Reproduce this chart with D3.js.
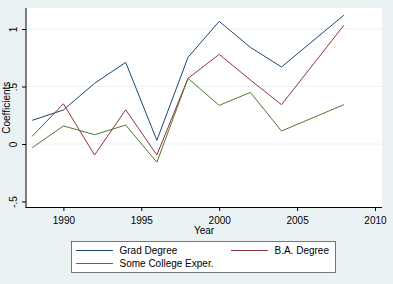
<!DOCTYPE html>
<html><head><meta charset="utf-8">
<script src="https://cdn.jsdelivr.net/npm/d3@7"></script>
<style>body{margin:0;background:#eaf2f3;}svg{display:block;font-family:"Liberation Sans",Arial,sans-serif;}</style>
</head><body><svg id="c" width="393" height="284"></svg>
<script>
const years = [1988,1990,1992,1994,1996,1998,2000,2002,2004,2008];
const gradDegree = [0.206,0.296,0.528,0.71,0.032,0.754,1.067,0.841,0.67,1.12];
const baDegree = [0.067,0.35,-0.096,0.298,-0.096,0.571,0.78,0.557,0.342,1.032];
const someCollege = [-0.032,0.157,0.081,0.165,-0.159,0.571,0.336,0.449,0.113,0.342];
const seriesNames = ["Grad Degree","B.A. Degree","Some College Exper."];
const colors = ["#1a476f","#90353b","#55752f"];
const xTicks = [1990,1995,2000,2005,2010];
const yTicks = [-0.5,0,0.5,1];
const yTickLabels = ["-.5","0",".5","1"];

const svg = d3.select("#c");
const L=26, R=382, T=8, B=207.5;
const x = d3.scaleLinear().domain([1987.6,2010.45]).range([L,R]);
const y = d3.scaleLinear().domain([-0.548,1.183]).range([207,T]);

svg.append("rect").attr("x",L).attr("y",T).attr("width",R-L).attr("height",B-T).attr("fill","#fff");
// grid
svg.append("g").selectAll("line").data(yTicks.filter(d=>d>-0.5)).join("line")
  .attr("x1",L).attr("x2",R).attr("y1",d=>y(d)).attr("y2",d=>y(d))
  .attr("stroke","#eaf2f3").attr("stroke-width",1);

const ya = svg.append("g").attr("transform",`translate(${L},0)`)
  .call(d3.axisLeft(y).tickValues(yTicks).tickSize(4).tickFormat((d,i)=>yTickLabels[i]));
ya.select(".domain").attr("stroke","#000").attr("d",`M0,${T}V${B}`);
ya.selectAll(".tick line").attr("stroke","#000");
ya.selectAll(".tick text").attr("font-size","10px").attr("fill","#000")
  .attr("x",null).attr("dy",null)
  .attr("text-anchor","middle")
  .attr("transform","translate(-9.5,0) rotate(-90)");

const xa = svg.append("g").attr("transform",`translate(0,${B})`)
  .call(d3.axisBottom(x).tickValues(xTicks).tickSize(3.5).tickFormat(d3.format("d")));
xa.select(".domain").attr("stroke","#000").attr("d",`M${L-0.5},0H${R}`);
xa.selectAll(".tick line").attr("stroke","#000");
xa.selectAll(".tick text").attr("font-size","10px").attr("fill","#000").attr("y",9);

svg.append("text").attr("x",(L+R)/2).attr("y",233.5).attr("text-anchor","middle")
  .attr("font-size","10px").text("Year");
svg.append("text").attr("transform",`translate(9.5,${(T+B)/2}) rotate(-90)`).attr("text-anchor","middle")
  .attr("font-size","10px").text("Coefficients");

const data = [gradDegree, baDegree, someCollege];
const line = d3.line().x((d,i)=>x(years[i])).y(d=>y(d));
data.forEach((s,k)=>{
  svg.append("path").attr("d",line(s)).attr("fill","none").attr("stroke",colors[k]).attr("stroke-width",1);
});

// legend
const lg = svg.append("g");
lg.append("rect").attr("x",71.5).attr("y",241.5).attr("width",264).attr("height",31).attr("fill","#fff").attr("stroke","#555").attr("stroke-width",0.8);
const pos = [[76,253.5],[231,253.5],[76,266.5]];
seriesNames.forEach((n,k)=>{
  const [lx,ly]=pos[k];
  lg.append("line").attr("x1",lx).attr("x2",lx+37).attr("y1",ly-3).attr("y2",ly-3).attr("stroke",colors[k]).attr("stroke-width",1);
  lg.append("text").attr("x",lx+43.5).attr("y",ly).attr("font-size","10px").text(n);
});
</script></body></html>
